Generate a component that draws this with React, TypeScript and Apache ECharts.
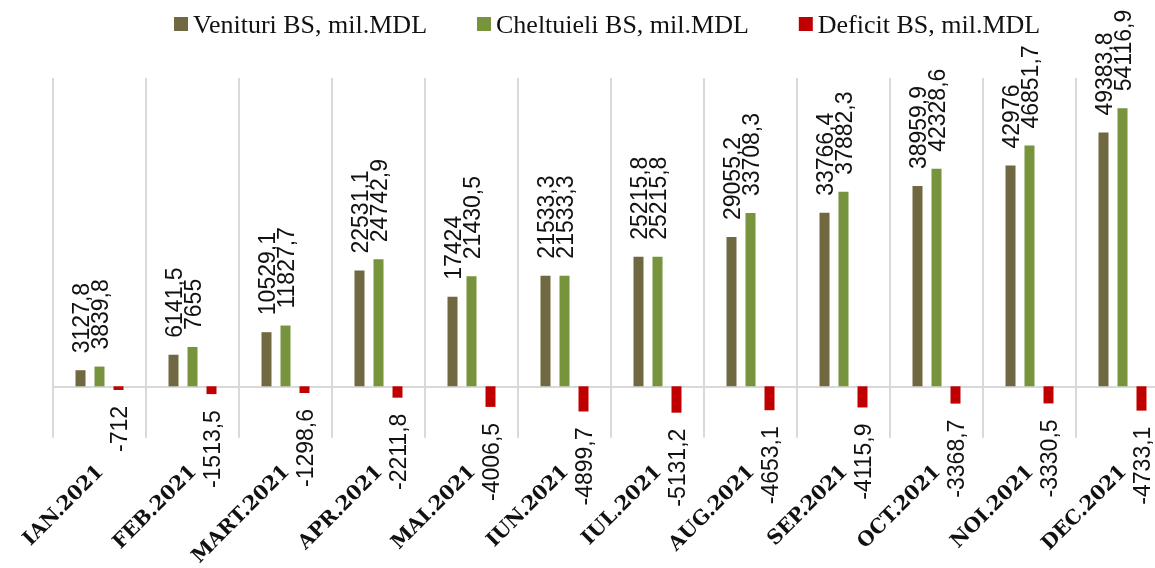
import React, { useEffect, useRef } from "react";
import * as echarts from "echarts";

const categories = [
  "IAN.2021", "FEB.2021", "MART.2021", "APR.2021", "MAI.2021", "IUN.2021",
  "IUL.2021", "AUG.2021", "SEP.2021", "OCT.2021", "NOI.2021", "DEC.2021",
];
const venituri = [3127.8, 6141.5, 10529.1, 22531.1, 17424, 21533.3, 25215.8, 29055.2, 33766.4, 38959.9, 42976, 49383.8];
const cheltuieli = [3839.8, 7655, 11827.7, 24742.9, 21430.5, 21533.3, 25215.8, 33708.3, 37882.3, 42328.6, 46851.7, 54116.9];
const deficit = [-712, -1513.5, -1298.6, -2211.8, -4006.5, -4899.7, -5131.2, -4653.1, -4115.9, -3368.7, -3330.5, -4733.1];
const seriesNames = ["Venituri BS, mil.MDL", "Cheltuieli BS, mil.MDL", "Deficit BS, mil.MDL"];
const colors = ["#6F6840", "#77933C", "#C00000"];

const fmt = (p: any) => String(p.value).replace(".", ",");

export default function App() {
  const ref = useRef<HTMLDivElement>(null);
  useEffect(() => {
    if (!ref.current) return;
    const chart = echarts.init(ref.current, null, { renderer: "svg" });
    const labelFont = { fontFamily: "Liberation Sans", fontSize: 23, color: "#111" };
    const posLabel = {
      show: true, position: "top", distance: 17, rotate: 90, align: "left", verticalAlign: "middle",
      formatter: fmt, ...labelFont,
    };
    const negLabel = {
      show: true, position: "bottom", distance: 16, rotate: 90, align: "right", verticalAlign: "middle",
      formatter: fmt, ...labelFont,
    };
    chart.setOption({
      animation: false,
      legend: {
        top: 6,
        left: 169,
        itemWidth: 14,
        itemHeight: 14,
        itemGap: 50,
        icon: "rect",
        textStyle: { fontFamily: "Liberation Serif", fontSize: 26, color: "#111" },
        data: seriesNames,
      },
      grid: { left: 53, top: 78, height: 360, width: 1116 },
      xAxis: [
        {
          type: "category",
          data: categories,
          axisLine: { show: true, onZero: true, lineStyle: { color: "#D9D9D9", width: 2 } },
          axisTick: { show: false },
          axisLabel: { show: false },
          splitLine: { show: true, lineStyle: { color: "#D9D9D9", width: 2 } },
        },
        {
          type: "category",
          data: categories,
          position: "bottom",
          axisLine: { show: false, onZero: false },
          axisTick: { show: false },
          splitLine: { show: false },
          axisLabel: {
            show: true, interval: 0, rotate: 45, margin: 30,
            fontFamily: "DejaVu Serif", fontWeight: "bold", fontSize: 20, color: "#111",
          },
        },
      ],
      yAxis: {
        type: "value",
        min: -10000,
        max: 60000,
        axisLine: { show: false },
        axisTick: { show: false },
        axisLabel: { show: false },
        splitLine: { show: false },
      },
      series: [
        { name: seriesNames[0], type: "bar", data: venituri, barWidth: 10, barGap: "90%", itemStyle: { color: colors[0] }, label: posLabel },
        { name: seriesNames[1], type: "bar", data: cheltuieli, barWidth: 10, barGap: "90%", itemStyle: { color: colors[1] }, label: posLabel },
        { name: seriesNames[2], type: "bar", data: deficit, barWidth: 10, barGap: "90%", itemStyle: { color: colors[2] }, label: negLabel },
      ],
    });
    return () => chart.dispose();
  }, []);
  return (
    <div style={{ position: "fixed", left: 0, top: 0, width: 1155, height: 568, overflow: "hidden" }}>
      <div ref={ref} style={{ width: 1169, height: 568 }} />
    </div>
  );
}
